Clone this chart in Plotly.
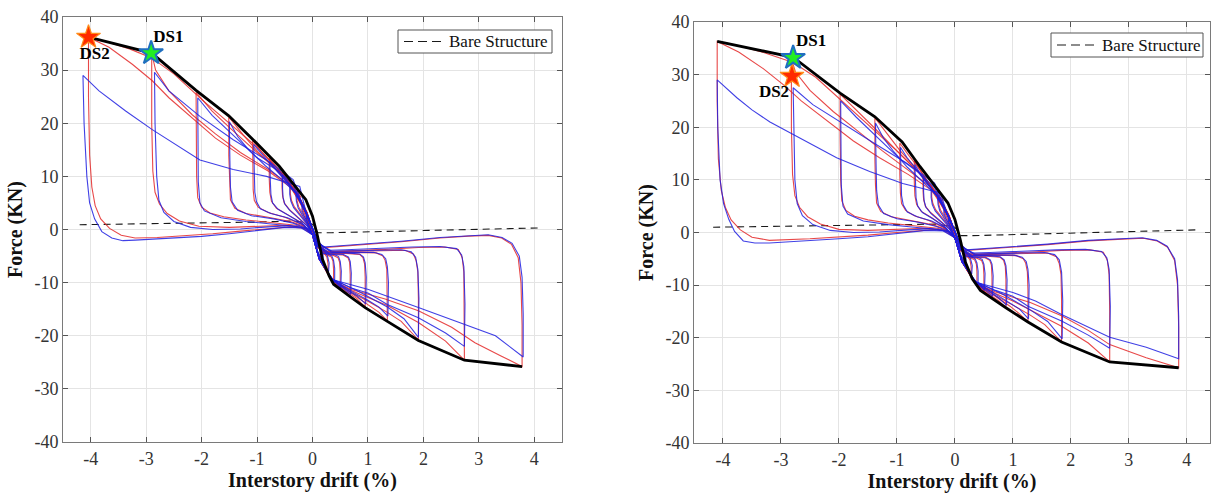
import plotly.graph_objects as go

# ---------------- DATA ----------------
X_TICKS = [-4, -3, -2, -1, 0, 1, 2, 3, 4]
X_TICKTEXT = ["-4", "-3", "-2", "-1", "0", "1", "2", "3", "4"]
Y_TICKS = [-40, -30, -20, -10, 0, 10, 20, 30, 40]
Y_TICKTEXT = ["-40", "-30", "-20", "-10", "0", "10", "20", "30", "40"]
LEGEND_LABEL = "Bare Structure"

# small cycles (same in both panels)
SMALL_RED = [
    [(0,-1),(0.06,-2.8),(0.1,-3.6),(0.1,-2.8),(0.06,-1.8),(0,0.3),(-0.06,2.0),(-0.1,2.9),(-0.1,2.2),(-0.06,1.2),(0,-1)],
    [(0,-1),(0.1,-4.5),(0.18,-6.2),(0.18,-5.0),(0.15,-4.0),(0.08,-2.5),(0,0),(-0.1,2.8),(-0.18,4.8),(-0.18,3.8),(-0.14,2.8),(-0.06,1.0),(0,-1)],
    [(0,-1),(0.12,-5.2),(0.22,-7.2),(0.28,-8.2),(0.28,-6.5),(0.26,-5.2),(0.2,-4.3),(0.1,-3.0),(0,0),(-0.1,3.0),(-0.2,5.2),(-0.28,6.8),(-0.28,5.5),(-0.25,4.3),(-0.18,3.0),(-0.08,1.2),(0,-1)],
    [(0,-1),(0.12,-5.5),(0.28,-8.4),(0.38,-10.2),(0.38,-7.5),(0.37,-6.0),(0.34,-5.2),(0.25,-4.7),(0.1,-3.3),(0,0),(-0.1,3.2),(-0.25,6.4),(-0.4,8.5),(-0.4,6.8),(-0.38,5.5),(-0.33,4.3),(-0.22,2.9),(-0.1,1.2),(0,-1)],
    [(0,-1),(0.12,-5.5),(0.3,-8.8),(0.42,-10.3),(0.5,-11.3),(0.5,-8.0),(0.49,-6.2),(0.46,-5.3),(0.38,-4.9),(0.2,-4.6),(0.08,-3.0),(0,0),(-0.1,3.2),(-0.25,6.3),(-0.4,8.6),(-0.55,10.8),(-0.55,8.0),(-0.54,6.3),(-0.51,5.0),(-0.42,3.8),(-0.25,2.2),(-0.1,0.8),(0,-1)],
]
SMALL_BLUE = [
    [(0,-1),(0.07,-3.0),(0.11,-3.4),(0.11,-2.6),(0.07,-1.6),(0,0.5),(-0.07,2.2),(-0.11,2.7),(-0.11,2.0),(-0.07,1.0),(0,-1)],
    [(0,-1),(0.1,-4.3),(0.19,-5.9),(0.19,-4.7),(0.16,-3.8),(0.09,-2.4),(0,0.2),(-0.1,3.0),(-0.19,4.6),(-0.19,3.6),(-0.15,2.6),(-0.07,0.9),(0,-1)],
    [(0,-1),(0.12,-5.0),(0.23,-7.0),(0.29,-7.9),(0.3,-6.3),(0.27,-5.0),(0.21,-4.1),(0.1,-2.9),(0,0.2),(-0.12,3.3),(-0.22,5.3),(-0.3,6.6),(-0.29,5.3),(-0.26,4.1),(-0.19,2.8),(-0.09,1.0),(0,-1)],
    [(0,-1),(0.12,-5.4),(0.29,-8.3),(0.4,-10.0),(0.4,-7.3),(0.38,-5.8),(0.35,-5.0),(0.26,-4.5),(0.1,-3.2),(0,0.2),(-0.12,3.4),(-0.27,6.5),(-0.41,8.3),(-0.41,6.6),(-0.39,5.3),(-0.34,4.1),(-0.23,2.7),(-0.1,1.0),(0,-1)],
    [(0,-1),(0.12,-5.4),(0.3,-8.6),(0.43,-10.1),(0.51,-11.0),(0.52,-7.8),(0.5,-6.0),(0.47,-5.1),(0.39,-4.7),(0.2,-4.5),(0.08,-3.0),(0,0.2),(-0.12,3.4),(-0.28,6.6),(-0.42,8.5),(-0.54,10.3),(-0.54,7.7),(-0.53,6.0),(-0.5,4.8),(-0.41,3.6),(-0.24,2.0),(-0.1,0.7),(0,-1)],
]

RED_LEFT = [
    [(0,-1),(0.12,-5.5),(0.35,-9.5),(0.55,-11.4),(0.68,-12.6),(0.68,-8.5),(0.67,-6.2),(0.64,-5.3),(0.55,-4.8),(0.3,-4.7),(0.1,-3.0),(0,0),(-0.1,3.2),(-0.25,6.3),(-0.45,9.2),(-0.62,11.4),(-0.78,13.4),(-0.78,9.5),(-0.77,7.0),(-0.74,5.3),(-0.65,4.0),(-0.45,2.8),(-0.2,1.3),(0,-1)],
    [(0,-1),(0.12,-5.5),(0.35,-9.4),(0.6,-11.6),(0.8,-13.0),(0.95,-14.6),(0.95,-9.0),(0.94,-6.5),(0.91,-5.3),(0.85,-4.7),(0.6,-4.5),(0.3,-4.5),(0.1,-2.8),(0,0),(-0.1,3.1),(-0.25,6.2),(-0.45,9.2),(-0.7,12.2),(-0.9,14.4),(-1.08,16.8),(-1.08,11.0),(-1.07,7.5),(-1.05,5.5),(-0.98,4.2),(-0.8,3.2),(-0.5,2.3),(-0.2,1.0),(0,-1)],
    [(0,-1),(0.12,-5.5),(0.35,-9.5),(0.7,-12.0),(1.0,-14.0),(1.2,-15.6),(1.35,-17.2),(1.35,-11.0),(1.34,-7.5),(1.31,-5.8),(1.27,-5.0),(1.15,-4.4),(0.8,-4.3),(0.45,-4.4),(0.2,-4.3),(0.08,-2.4),(0,0),(-0.1,3.0),(-0.25,6.2),(-0.45,9.0),(-0.75,12.2),(-1.0,14.8),(-1.25,17.8),(-1.51,21.2),(-1.51,14.0),(-1.5,9.0),(-1.48,5.6),(-1.4,4.0),(-1.2,3.0),(-0.8,2.3),(-0.4,1.5),(-0.15,0.6),(0,-1)],
    [(0,-1),(0.12,-5.5),(0.35,-9.4),(0.7,-11.8),(1.0,-13.5),(1.35,-15.6),(1.6,-17.3),(1.91,-20.8),(1.91,-13.0),(1.9,-8.0),(1.87,-5.9),(1.82,-4.6),(1.67,-3.9),(1.31,-4.0),(0.8,-4.1),(0.4,-4.2),(0.2,-4.1),(0.08,-2.3),(0,0),(-0.1,3.0),(-0.25,6.0),(-0.4,8.6),(-0.7,11.8),(-1.0,14.5),(-1.51,19.3),(-1.81,22.3),(-2.1,25.8),(-2.1,18.0),(-2.09,10.0),(-2.07,6.0),(-2.0,4.2),(-1.85,3.1),(-1.6,2.4),(-1.2,1.8),(-0.7,1.3),(-0.3,0.8),(-0.1,0.2),(0,-1)],
    [(0,-1),(0.12,-5.5),(0.35,-9.5),(0.7,-11.5),(1.0,-12.8),(1.35,-14.3),(1.91,-17.5),(2.4,-21.0),(2.74,-24.6),(2.74,-15.0),(2.73,-8.0),(2.7,-5.3),(2.63,-3.75),(2.39,-3.3),(1.91,-3.4),(1.31,-3.75),(0.71,-3.9),(0.41,-4.1),(0.2,-4.0),(0.08,-2.2),(0,0),(-0.1,2.8),(-0.25,5.5),(-0.4,8.3),(-0.8,11.3),(-1.3,14.5),(-1.75,18.0),(-2.17,21.6),(-2.59,26.1),(-2.83,30.0),(-2.9,33.2),(-2.9,20.0),(-2.88,11.0),(-2.84,7.0),(-2.76,4.8),(-2.62,3.0),(-2.4,1.6),(-2.05,0.6),(-1.5,0.4),(-1.0,0.6),(-0.5,0.8),(-0.2,0.4),(0,-1)],
    [(0,-1),(0.12,-5.5),(0.35,-9.6),(0.7,-11.3),(1.31,-13.1),(1.91,-15.3),(2.51,-18.4),(2.93,-21.3),(3.4,-23.8),(3.78,-25.8),(3.78,-18.0),(3.76,-10.0),(3.71,-5.3),(3.59,-2.8),(3.41,-1.6),(3.17,-1.1),(2.81,-1.25),(2.3,-1.6),(1.6,-2.3),(0.9,-2.8),(0.45,-3.1),(0.2,-3.4),(0.08,-2.0),(0,0),(-0.1,2.5),(-0.25,5.5),(-0.4,8.0),(-0.8,11.0),(-1.3,14.0),(-1.75,17.2),(-2.17,21.0),(-2.59,24.8),(-2.89,28.0),(-3.25,31.1),(-3.67,34.3),(-4.04,36.2),(-4.04,25.0),(-4.02,14.0),(-3.98,8.0),(-3.92,4.5),(-3.82,2.0),(-3.66,0.2),(-3.45,-1.1),(-3.2,-1.6),(-2.8,-1.5),(-2.3,-1.2),(-1.8,-0.8),(-1.3,-0.3),(-0.8,0.2),(-0.4,0.5),(-0.12,0.2),(0,-1)],
    [(-0.2,6.0),(-0.5,10.0),(-1.0,15.5),(-1.5,20.0),(-2.0,24.5),(-2.5,29.3),(-2.9,32.3),(-3.3,34.0),(-3.7,35.3),(-4.04,36.2)],
]
BLUE_LEFT = [
    [(0,-1),(0.12,-5.5),(0.35,-9.3),(0.55,-11.0),(0.69,-12.2),(0.7,-8.2),(0.68,-6.0),(0.65,-5.2),(0.56,-4.7),(0.3,-4.6),(0.1,-3.0),(0,0.2),(-0.12,3.3),(-0.3,6.9),(-0.5,9.4),(-0.65,11.2),(-0.77,12.8),(-0.76,9.0),(-0.75,6.6),(-0.72,5.0),(-0.62,3.8),(-0.42,2.6),(-0.18,1.1),(0,-1)],
    [(0,-1),(0.12,-5.5),(0.35,-9.2),(0.6,-11.2),(0.8,-12.5),(0.96,-14.0),(0.97,-9.0),(0.95,-6.3),(0.92,-5.2),(0.85,-4.6),(0.6,-4.4),(0.3,-4.4),(0.1,-2.8),(0,0.2),(-0.12,3.2),(-0.3,6.8),(-0.5,9.3),(-0.75,12.3),(-0.92,14.2),(-1.06,16.0),(-1.05,11.0),(-1.04,7.0),(-1.01,5.2),(-0.94,3.9),(-0.75,3.0),(-0.45,2.2),(-0.15,0.8),(0,-1)],
    [(0,-1),(0.12,-5.5),(0.35,-9.3),(0.7,-11.6),(1.0,-13.3),(1.2,-14.6),(1.36,-16.3),(1.37,-10.0),(1.35,-7.0),(1.32,-5.5),(1.25,-4.7),(1.1,-4.3),(0.7,-4.3),(0.35,-4.3),(0.1,-2.6),(0,0.2),(-0.12,3.2),(-0.3,6.8),(-0.55,9.4),(-0.85,12.0),(-1.15,15.0),(-1.35,17.5),(-1.5,20.3),(-1.49,13.0),(-1.48,8.0),(-1.45,5.2),(-1.35,3.6),(-1.1,2.6),(-0.7,2.0),(-0.35,1.2),(-0.1,0.2),(0,-1)],
    [(0,-1),(0.12,-5.5),(0.35,-9.3),(0.8,-11.5),(1.35,-14.6),(1.65,-16.8),(1.91,-20.3),(1.92,-13.0),(1.9,-7.5),(1.86,-5.2),(1.78,-4.2),(1.6,-3.8),(1.2,-3.9),(0.7,-4.0),(0.35,-4.1),(0.1,-2.6),(0,0.2),(-0.12,3.2),(-0.35,8.4),(-0.61,11.0),(-1.0,13.5),(-1.51,18.5),(-1.81,21.5),(-2.07,24.8),(-2.07,17.0),(-2.06,9.0),(-2.03,5.0),(-1.95,3.5),(-1.65,2.2),(-1.2,1.5),(-0.7,1.0),(-0.3,0.6),(-0.1,0.1),(0,-1)],
    [(0,-1),(0.12,-5.5),(0.35,-9.3),(0.7,-11.0),(1.01,-12.0),(1.35,-14.1),(1.91,-16.6),(2.4,-19.5),(2.74,-22.0),(2.75,-14.0),(2.73,-7.0),(2.69,-4.8),(2.6,-3.6),(2.3,-3.2),(1.8,-3.3),(1.2,-3.6),(0.6,-3.8),(0.3,-3.9),(0.1,-2.5),(0,0.2),(-0.12,3.0),(-0.35,9.4),(-0.83,13.1),(-1.43,16.9),(-2.03,21.3),(-2.59,26.1),(-2.85,29.6),(-2.84,20.0),(-2.81,10.0),(-2.77,5.5),(-2.68,3.2),(-2.5,1.5),(-2.2,0.4),(-1.8,0.0),(-1.3,0.1),(-0.8,0.5),(-0.4,0.7),(-0.15,0.3),(0,-1)],
    [(0,-1),(0.12,-5.5),(0.35,-9.4),(1.01,-11.3),(1.91,-14.7),(2.74,-17.8),(3.3,-20.0),(3.8,-24.0),(3.8,-16.0),(3.78,-9.0),(3.73,-5.0),(3.6,-2.6),(3.42,-1.5),(3.17,-1.0),(2.81,-1.2),(2.3,-1.5),(1.6,-2.2),(0.9,-2.7),(0.45,-3.0),(0.2,-3.3),(0.08,-2.0),(0,0.2),(-0.1,2.5),(-0.23,8.1),(-0.83,10.0),(-1.43,11.3),(-2.03,13.1),(-2.47,16.0),(-2.89,18.8),(-3.37,22.3),(-3.85,26.1),(-4.14,29.0),(-4.12,20.0),(-4.07,10.0),(-4.02,5.0),(-3.93,2.0),(-3.8,-0.4),(-3.62,-1.6),(-3.42,-2.1),(-3.2,-2.0),(-2.5,-1.6),(-2.0,-1.3),(-1.5,-0.8),(-1.0,-0.2),(-0.5,0.4),(-0.2,0.3),(0,-1)],
]

RED_RIGHT = [
    [(0,-1),(0.12,-5.5),(0.35,-9.5),(0.52,-11.3),(0.64,-12.5),(0.64,-8.5),(0.63,-6.2),(0.6,-5.3),(0.52,-4.8),(0.3,-4.7),(0.1,-3.0),(0,0),(-0.1,3.2),(-0.25,6.3),(-0.45,9.3),(-0.58,11.6),(-0.7,13.6),(-0.7,9.5),(-0.69,7.0),(-0.66,5.3),(-0.58,4.0),(-0.4,2.8),(-0.2,1.3),(0,-1)],
    [(0,-1),(0.12,-5.5),(0.35,-9.4),(0.6,-11.8),(0.76,-13.0),(0.88,-14.3),(0.88,-9.0),(0.87,-6.5),(0.84,-5.3),(0.78,-4.7),(0.55,-4.5),(0.3,-4.5),(0.1,-2.8),(0,0),(-0.1,3.1),(-0.25,6.2),(-0.45,9.5),(-0.65,12.6),(-0.8,14.7),(-0.95,17.0),(-0.95,11.0),(-0.94,7.5),(-0.92,5.5),(-0.85,4.2),(-0.7,3.2),(-0.45,2.3),(-0.2,1.0),(0,-1)],
    [(0,-1),(0.12,-5.5),(0.35,-9.5),(0.7,-12.2),(0.95,-14.0),(1.12,-15.5),(1.26,-17.0),(1.26,-11.0),(1.25,-7.5),(1.22,-5.8),(1.18,-5.0),(1.06,-4.4),(0.75,-4.3),(0.45,-4.4),(0.2,-4.3),(0.08,-2.4),(0,0),(-0.1,3.0),(-0.25,6.2),(-0.45,9.2),(-0.72,12.8),(-0.95,15.6),(-1.15,18.5),(-1.38,21.8),(-1.38,14.0),(-1.37,9.0),(-1.35,5.6),(-1.28,4.0),(-1.1,3.0),(-0.75,2.3),(-0.4,1.5),(-0.15,0.6),(0,-1)],
    [(0,-1),(0.12,-5.5),(0.35,-9.4),(0.7,-12.0),(1.0,-13.8),(1.3,-15.7),(1.55,-17.5),(1.84,-20.8),(1.84,-13.0),(1.83,-8.0),(1.8,-5.9),(1.75,-4.6),(1.6,-3.9),(1.25,-4.0),(0.8,-4.1),(0.4,-4.2),(0.2,-4.1),(0.08,-2.3),(0,0),(-0.1,3.0),(-0.25,6.0),(-0.4,8.8),(-0.7,12.3),(-1.0,15.5),(-1.4,20.0),(-1.7,23.2),(-1.98,26.3),(-1.98,18.0),(-1.97,10.0),(-1.95,6.0),(-1.88,4.2),(-1.73,3.1),(-1.5,2.4),(-1.15,1.8),(-0.7,1.3),(-0.3,0.8),(-0.1,0.2),(0,-1)],
    [(0,-1),(0.12,-5.5),(0.35,-9.5),(0.7,-11.6),(1.0,-13.0),(1.26,-14.5),(1.84,-17.8),(2.3,-21.0),(2.67,-24.6),(2.67,-15.0),(2.66,-8.0),(2.63,-5.3),(2.56,-3.75),(2.33,-3.3),(1.84,-3.4),(1.26,-3.75),(0.7,-3.9),(0.41,-4.1),(0.2,-4.0),(0.08,-2.2),(0,0),(-0.1,2.8),(-0.25,5.5),(-0.4,8.5),(-0.8,11.8),(-1.25,15.5),(-1.7,19.5),(-2.1,23.0),(-2.5,27.0),(-2.75,30.5),(-2.82,33.0),(-2.82,20.0),(-2.8,11.0),(-2.76,7.0),(-2.68,4.8),(-2.54,3.0),(-2.32,1.6),(-2.0,0.6),(-1.5,0.4),(-1.0,0.6),(-0.5,0.8),(-0.2,0.4),(0,-1)],
    [(0,-1),(0.12,-5.5),(0.35,-9.6),(0.7,-11.3),(1.3,-13.3),(1.84,-15.8),(2.3,-18.6),(2.67,-21.3),(3.3,-23.8),(3.86,-25.7),(3.86,-18.0),(3.84,-10.0),(3.79,-5.3),(3.67,-2.8),(3.49,-1.6),(3.25,-1.1),(2.89,-1.25),(2.3,-1.6),(1.6,-2.3),(0.9,-2.8),(0.45,-3.1),(0.2,-3.4),(0.08,-2.0),(0,0),(-0.1,2.5),(-0.25,5.5),(-0.4,8.0),(-0.8,11.0),(-1.3,14.2),(-1.75,17.4),(-2.2,21.2),(-2.65,25.0),(-2.95,28.0),(-3.3,31.1),(-3.73,34.3),(-4.1,36.3),(-4.1,25.0),(-4.08,14.0),(-4.03,8.0),(-3.96,4.8),(-3.86,2.4),(-3.7,0.5),(-3.5,-0.9),(-3.2,-1.5),(-2.5,-1.2),(-2.0,-0.9),(-1.5,-0.5),(-1.0,0.0),(-0.6,0.4),(-0.3,0.6),(-0.1,0.2),(0,-1)],
    [(-0.2,6.0),(-0.5,10.0),(-1.0,15.5),(-1.5,20.5),(-2.0,25.5),(-2.4,29.5),(-2.79,32.3),(-3.3,34.2),(-3.7,35.4),(-4.1,36.3)],
]
BLUE_RIGHT = [
    [(0,-1),(0.12,-5.5),(0.35,-9.3),(0.53,-10.9),(0.65,-12.1),(0.66,-8.2),(0.64,-6.0),(0.61,-5.2),(0.53,-4.7),(0.3,-4.6),(0.1,-3.0),(0,0.2),(-0.12,3.3),(-0.3,6.9),(-0.48,9.4),(-0.6,11.2),(-0.69,12.9),(-0.68,9.0),(-0.67,6.6),(-0.64,5.0),(-0.56,3.8),(-0.38,2.6),(-0.18,1.1),(0,-1)],
    [(0,-1),(0.12,-5.5),(0.35,-9.2),(0.6,-11.3),(0.76,-12.5),(0.89,-13.8),(0.9,-9.0),(0.88,-6.3),(0.85,-5.2),(0.78,-4.6),(0.55,-4.4),(0.3,-4.4),(0.1,-2.8),(0,0.2),(-0.12,3.2),(-0.3,6.8),(-0.5,9.5),(-0.7,12.5),(-0.83,14.3),(-0.94,16.2),(-0.93,11.0),(-0.92,7.0),(-0.89,5.2),(-0.82,3.9),(-0.65,3.0),(-0.4,2.2),(-0.15,0.8),(0,-1)],
    [(0,-1),(0.12,-5.5),(0.35,-9.3),(0.7,-11.7),(0.95,-13.3),(1.12,-14.6),(1.27,-16.4),(1.28,-10.0),(1.26,-7.0),(1.23,-5.5),(1.16,-4.7),(1.02,-4.3),(0.65,-4.3),(0.35,-4.3),(0.1,-2.6),(0,0.2),(-0.12,3.2),(-0.3,6.8),(-0.55,9.6),(-0.82,12.4),(-1.05,15.3),(-1.23,17.9),(-1.37,20.8),(-1.36,13.0),(-1.35,8.0),(-1.32,5.2),(-1.23,3.6),(-1.0,2.6),(-0.65,2.0),(-0.33,1.2),(-0.1,0.2),(0,-1)],
    [(0,-1),(0.12,-5.5),(0.35,-9.3),(0.8,-11.6),(1.3,-14.7),(1.6,-16.9),(1.85,-20.2),(1.86,-13.0),(1.84,-7.5),(1.8,-5.2),(1.72,-4.2),(1.55,-3.8),(1.15,-3.9),(0.7,-4.0),(0.35,-4.1),(0.1,-2.6),(0,0.2),(-0.12,3.2),(-0.35,8.5),(-0.6,11.2),(-0.95,14.0),(-1.4,18.8),(-1.7,21.9),(-1.97,25.0),(-1.97,17.0),(-1.96,9.0),(-1.93,5.0),(-1.85,3.5),(-1.58,2.2),(-1.15,1.5),(-0.7,1.0),(-0.3,0.6),(-0.1,0.1),(0,-1)],
    [(0,-1),(0.12,-5.5),(0.35,-9.3),(0.7,-11.0),(1.0,-12.1),(1.26,-14.0),(1.84,-16.8),(2.3,-19.5),(2.67,-22.0),(2.68,-14.0),(2.66,-7.0),(2.62,-4.8),(2.53,-3.6),(2.25,-3.2),(1.75,-3.3),(1.2,-3.6),(0.6,-3.8),(0.3,-3.9),(0.1,-2.5),(0,0.2),(-0.12,3.0),(-0.35,9.4),(-0.85,13.3),(-1.4,17.0),(-1.95,20.8),(-2.45,24.3),(-2.79,27.5),(-2.78,20.0),(-2.76,10.0),(-2.72,5.5),(-2.63,3.2),(-2.45,1.5),(-2.15,0.4),(-1.75,0.0),(-1.3,0.1),(-0.8,0.5),(-0.4,0.7),(-0.15,0.3),(0,-1)],
    [(0,-1),(0.12,-5.5),(0.35,-9.4),(1.0,-11.4),(1.39,-13.0),(1.84,-15.6),(2.67,-19.9),(3.3,-21.8),(3.86,-24.0),(3.86,-16.0),(3.84,-9.0),(3.79,-5.0),(3.66,-2.6),(3.48,-1.5),(3.23,-1.0),(2.87,-1.2),(2.3,-1.5),(1.6,-2.2),(0.9,-2.7),(0.45,-3.0),(0.2,-3.3),(0.08,-2.0),(0,0.2),(-0.1,2.5),(-0.25,7.5),(-0.9,9.3),(-1.47,11.6),(-2.04,14.2),(-2.73,18.3),(-3.19,21.0),(-3.5,23.3),(-3.76,25.6),(-4.1,29.0),(-4.09,20.0),(-4.05,10.0),(-3.99,5.5),(-3.9,2.5),(-3.8,0.2),(-3.65,-1.6),(-3.45,-2.0),(-3.2,-2.0),(-2.5,-1.6),(-2.0,-1.2),(-1.5,-0.8),(-1.0,-0.2),(-0.5,0.4),(-0.2,0.3),(0,-1)],
]

ENV_LEFT = [(-4.04,36.2),(-2.9,33.2),(-2.1,26.2),(-1.51,21.4),(-1.08,17.0),(-0.6,11.9),(-0.12,5.6),(0.0,2.5),(0.09,-1.25),(0.18,-5.6),(0.3,-8.75),(0.38,-10.3),(0.66,-12.5),(0.95,-14.7),(1.35,-17.3),(1.91,-20.9),(2.74,-24.6),(3.78,-25.8)]
ENV_RIGHT = [(-4.1,36.3),(-2.79,33.3),(-1.98,26.5),(-1.38,22.0),(-0.91,17.2),(-0.6,12.5),(-0.12,5.6),(0.0,2.5),(0.09,-1.25),(0.18,-5.6),(0.3,-8.8),(0.44,-11.0),(0.88,-14.3),(1.26,-17.0),(1.84,-20.8),(2.67,-24.6),(3.86,-25.7)]

BARE_LEFT = [(-4.2,0.9),(-2.0,1.2),(-1.0,1.4),(-0.3,1.6),(0.0,1.0),(0.1,-0.6),(0.35,-0.6),(2.0,-0.2),(4.13,0.3)]
BARE_RIGHT = [(-4.17,1.0),(-2.0,1.3),(-0.3,1.6),(0.0,1.0),(0.1,-0.6),(0.3,-0.6),(2.0,-0.1),(4.17,0.5)]

# damage-state markers (data coordinates) and their label positions
DS_LEFT = {"DS1": (-2.91, 33.2), "DS2": (-4.04, 36.2)}
DS_LEFT_LABEL = {"DS1": (-2.6, 36.1), "DS2": (-3.93, 32.9)}
DS_RIGHT = {"DS1": (-2.79, 33.2), "DS2": (-2.81, 29.7)}
DS_RIGHT_LABEL = {"DS1": (-2.48, 36.2), "DS2": (-3.12, 26.6)}

# ---------------- STYLE ----------------
FONT = "Liberation Serif"
RED = "rgba(228,40,40,0.85)"
BLUE = "rgba(30,30,225,0.85)"
W, H = 1211, 495

fig = go.Figure()


def add_path(pts, color, width, xa, ya, dash=None):
    fig.add_trace(go.Scatter(
        x=[p[0] for p in pts], y=[p[1] for p in pts], mode="lines",
        line=dict(color=color, width=width, dash=dash),
        showlegend=False, hoverinfo="skip", xaxis=xa, yaxis=ya))


panels = [
    ("x", "y", BARE_LEFT, RED_LEFT, BLUE_LEFT, ENV_LEFT, DS_LEFT, DS_LEFT_LABEL),
    ("x2", "y2", BARE_RIGHT, RED_RIGHT, BLUE_RIGHT, ENV_RIGHT, DS_RIGHT, DS_RIGHT_LABEL),
]
for xa, ya, bare, reds, blues, env, ds, dsl in panels:
    add_path(bare, "#1a1a1a", 1.1, xa, ya, dash="7px,5px")
    for lp in SMALL_RED + reds:
        add_path(lp, RED, 1.1, xa, ya)
    for lp in SMALL_BLUE + blues:
        add_path(lp, BLUE, 1.1, xa, ya)
    add_path(env, "black", 2.8, xa, ya)
    fig.add_trace(go.Scatter(x=[ds["DS2"][0]], y=[ds["DS2"][1]], mode="markers",
                             marker=dict(symbol="star", size=18, color="#ff2a00",
                                         line=dict(color="#ff8c1a", width=1.2)),
                             showlegend=False, hoverinfo="skip", xaxis=xa, yaxis=ya))
    fig.add_trace(go.Scatter(x=[ds["DS1"][0]], y=[ds["DS1"][1]], mode="markers",
                             marker=dict(symbol="star", size=18, color="#22ee22",
                                         line=dict(color="#1f6fc0", width=2)),
                             showlegend=False, hoverinfo="skip", xaxis=xa, yaxis=ya))
    fig.add_trace(go.Scatter(x=[dsl["DS1"][0], dsl["DS2"][0]], y=[dsl["DS1"][1], dsl["DS2"][1]],
                             mode="text", text=["<b>DS1</b>", "<b>DS2</b>"],
                             textfont=dict(family=FONT, size=17, color="black"),
                             showlegend=False, hoverinfo="skip", xaxis=xa, yaxis=ya))

# legend boxes (drawn as shapes + text), pixel boxes converted to paper fractions
for (bx0, bx1, by0, by1) in [(398, 552, 30, 53), (1051, 1203, 33, 57)]:
    fig.add_shape(type="rect", xref="paper", yref="paper",
                  x0=bx0 / W, x1=bx1 / W, y0=1 - by1 / H, y1=1 - by0 / H,
                  line=dict(color="#555555", width=1), fillcolor="white", layer="above")
    yc = 1 - (by0 + by1) / 2 / H
    fig.add_shape(type="line", xref="paper", yref="paper",
                  x0=(bx0 + 6) / W, x1=(bx0 + 46) / W, y0=yc, y1=yc,
                  line=dict(color="#1a1a1a", width=1.1, dash="9px,5px"), layer="above")
    fig.add_annotation(xref="paper", yref="paper", x=(bx0 + 49) / W, y=yc,
                       xanchor="left", yanchor="middle", showarrow=False,
                       text=LEGEND_LABEL, font=dict(family=FONT, size=17, color="#111111"))

axis_common = dict(
    showgrid=True, gridcolor="#e4e4e4", gridwidth=1, zeroline=False,
    showline=True, linecolor="#7a7a7a", linewidth=1, mirror="ticks",
    ticks="inside", ticklen=5, tickcolor="#555555", automargin=False,
    tickfont=dict(family=FONT, size=18, color="#333333"),
)
xa_common = dict(axis_common, range=[-4.5, 4.5], tickvals=X_TICKS, ticktext=X_TICKTEXT,
                 title=dict(text="<b>Interstory drift (%)</b>", font=dict(family=FONT, size=20, color="#111111"), standoff=4))
ya_common = dict(axis_common, range=[-40, 40], tickvals=Y_TICKS, ticktext=Y_TICKTEXT,
                 title=dict(text="<b>Force (KN)</b>", font=dict(family=FONT, size=20, color="#111111"), standoff=6))

fig.update_layout(
    width=W, height=H, autosize=False,
    margin=dict(l=0, r=0, t=0, b=0, autoexpand=False),
    paper_bgcolor="white", plot_bgcolor="white",
    font=dict(family=FONT),
    showlegend=False,
    xaxis=dict(xa_common, domain=[63 / W, 562 / W], anchor="y"),
    yaxis=dict(ya_common, domain=[53 / H, 478 / H], anchor="x"),
    xaxis2=dict(xa_common, domain=[694 / W, 1210 / W], anchor="y2", range=[-4.5, 4.4]),
    yaxis2=dict(ya_common, domain=[52 / H, 473 / H], anchor="x2"),
)

fig.write_html("out.html", config={"displayModeBar": False},
               post_script="document.body.style.margin='0';")
